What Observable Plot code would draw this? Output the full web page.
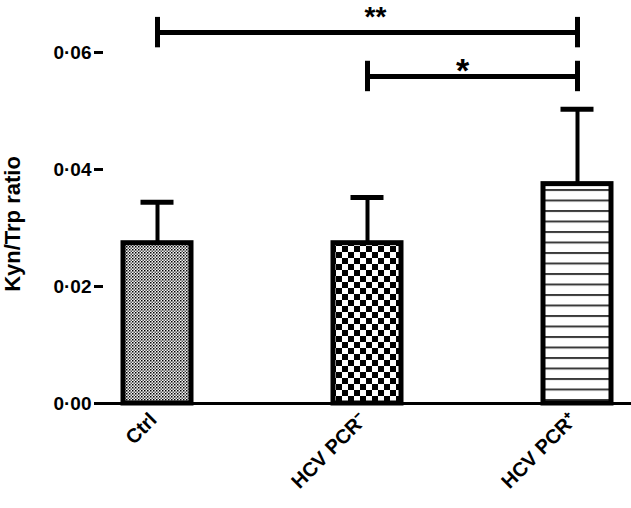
<!DOCTYPE html>
<html>
<head>
<meta charset="utf-8">
<script src="https://cdn.jsdelivr.net/npm/d3@7"></script>
<script src="https://cdn.jsdelivr.net/npm/@observablehq/plot@0.6"></script>
<style>
  html, body { margin: 0; padding: 0; background: #fff; }
  #chart svg { display: block; }
</style>
</head>
<body>
<div id="chart"></div>
<script>
// ---- data ----
const categories = ["Ctrl", "HCV PCR⁻", "HCV PCR⁺"];
const means = [0.0274, 0.0274, 0.0375];
const sds = [0.0070, 0.0078, 0.0128];

const yTicks = [0, 0.02, 0.04, 0.06];
const yTickLabels = ["0·00", "0·02", "0·04", "0·06"];
const yLabel = "Kyn/Trp ratio";

// significance comparisons
const compFrom = ["Ctrl", "HCV PCR⁻"];
const compTo = ["HCV PCR⁺", "HCV PCR⁺"];
const compLevel = [0.0634, 0.0559];
const compLabel = ["**", "*"];

// ---- tables built from the arrays ----
const patternIds = ["pat-dots", "pat-checker", "pat-stripes"];
const data = categories.map((c, i) => ({cat: c, mean: means[i], upper: means[i] + sds[i], fill: `url(#${patternIds[i]})`}));
const comps = compFrom.map((f, i) => ({from: f, to: compTo[i], level: compLevel[i], label: compLabel[i]}));
const capHalf = 0.0026;
const midCat = categories[1];

function patternDefs() {
  const defs = d3.create("svg:defs");
  // fine dot checker
  const p1 = defs.append("pattern").attr("id", "pat-dots").attr("patternUnits", "userSpaceOnUse").attr("width", 3).attr("height", 3);
  p1.append("rect").attr("width", 3).attr("height", 3).attr("fill", "#f4f4f4");
  p1.append("rect").attr("width", 1.5).attr("height", 1.5).attr("fill", "#000");
  p1.append("rect").attr("x", 1.5).attr("y", 1.5).attr("width", 1.5).attr("height", 1.5).attr("fill", "#555");
  // coarse checkerboard
  const p2 = defs.append("pattern").attr("id", "pat-checker").attr("patternUnits", "userSpaceOnUse").attr("width", 12).attr("height", 12);
  p2.append("rect").attr("width", 12).attr("height", 12).attr("fill", "#fff");
  p2.append("rect").attr("width", 6).attr("height", 6).attr("fill", "#000");
  p2.append("rect").attr("x", 6).attr("y", 6).attr("width", 6).attr("height", 6).attr("fill", "#000");
  // horizontal stripes
  const p3 = defs.append("pattern").attr("id", "pat-stripes").attr("patternUnits", "userSpaceOnUse").attr("width", 10).attr("height", 10.5);
  p3.append("rect").attr("width", 10).attr("height", 10.5).attr("fill", "#fff");
  p3.append("rect").attr("y", 0).attr("width", 10).attr("height", 2).attr("fill", "#3a3a3a");
  return defs.node();
}

const plot = Plot.plot({
  width: 631,
  height: 508,
  marginLeft: 103,
  marginRight: 0,
  marginTop: 52,
  marginBottom: 105,
  style: {fontFamily: "'Liberation Sans', Arial, sans-serif", background: "#fff", color: "#000"},
  x: {domain: categories, range: [103, 631], paddingInner: 0.6766, paddingOuter: 0.0939, axis: null},
  y: {domain: [0, 0.06], axis: null},
  marks: [
    patternDefs,
    Plot.barY(data, {x: "cat", y: "mean", fill: "fill", stroke: "#000", strokeWidth: 5}),
    Plot.ruleX(data, {x: "cat", y1: "mean", y2: "upper", stroke: "#000", strokeWidth: 4}),
    Plot.tickY(data, {x: "cat", y: "upper", stroke: "#000", strokeWidth: 5, insetLeft: 17.5, insetRight: 17.5}),
    Plot.ruleY([0], {stroke: "#000", strokeWidth: 3}),
    Plot.axisY({
      ticks: yTicks,
      tickFormat: d => yTickLabels[yTicks.indexOf(d)],
      tickSize: 9, tickPadding: 3, strokeWidth: 3,
      fontSize: 19, fontWeight: "bold", label: null, line: true
    }),
    Plot.axisX({
      tickSize: 0, tickPadding: 13, tickRotate: -45, dx: -4,
      fontSize: 20, fontWeight: "bold", label: null
    }),
    Plot.text([yLabel], {frameAnchor: "left", textAnchor: "middle", rotate: -90, dx: -91, dy: -4, fontSize: 22, fontWeight: "bold"}),
    // significance brackets
    Plot.link(comps, {x1: "from", x2: "to", y1: "level", y2: "level", stroke: "#000", strokeWidth: 5}),
    Plot.ruleX(comps, {x: "from", y1: d => d.level - capHalf, y2: d => d.level + capHalf, stroke: "#000", strokeWidth: 5}),
    Plot.ruleX(comps, {x: "to", y1: d => d.level - capHalf, y2: d => d.level + capHalf, stroke: "#000", strokeWidth: 5}),
    Plot.text(comps.slice(0, 1), {x: () => midCat, y: "level", text: "label", dx: 8, dy: -16, fontSize: 28, fontWeight: "bold"}),
    Plot.text(comps.slice(1), {x: () => midCat, y: "level", text: "label", dx: 95, dy: -5, fontSize: 34, fontWeight: "bold"})
  ]
});
document.getElementById("chart").appendChild(plot);
</script>
</body>
</html>
